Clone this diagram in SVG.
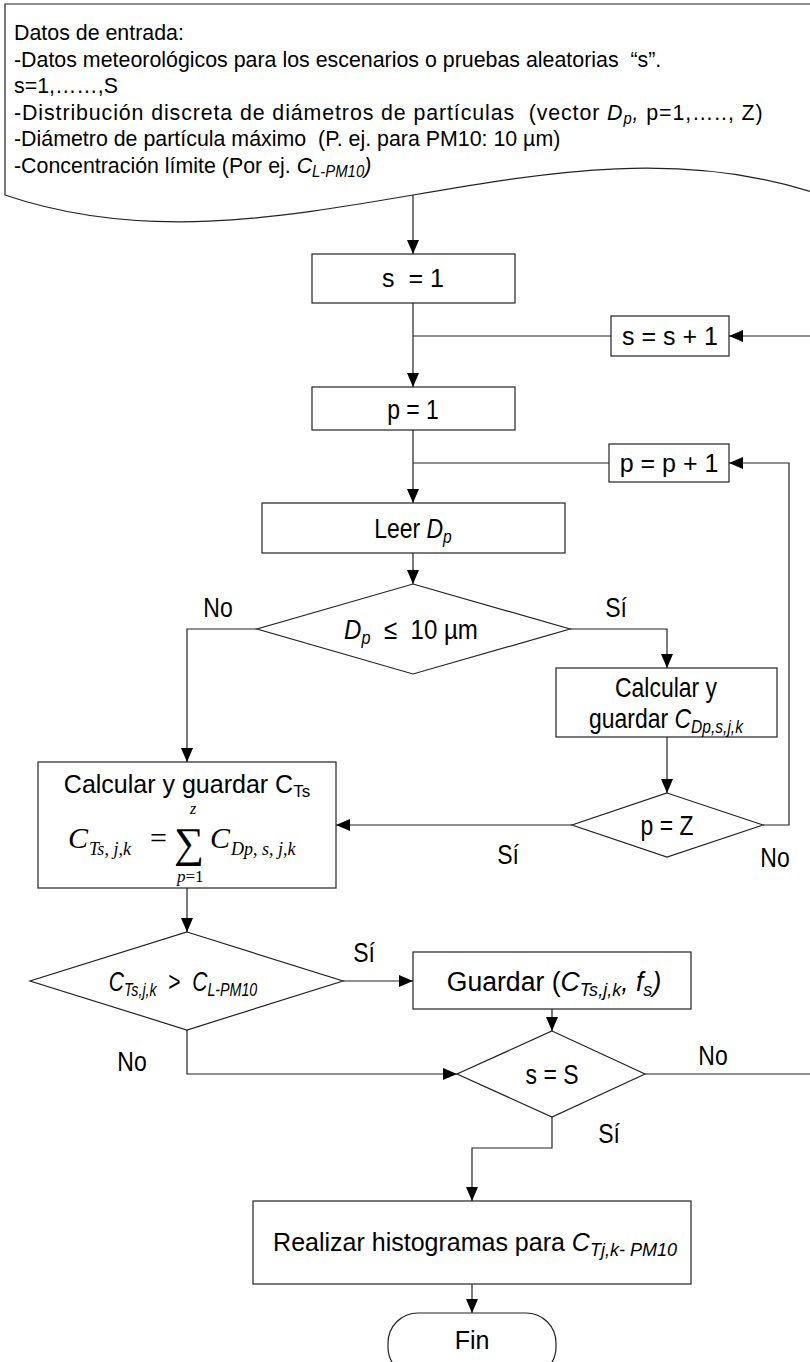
<svg xmlns="http://www.w3.org/2000/svg" width="810" height="1362" viewBox="0 0 810 1362">
  <style>
    .box { fill: #fff; stroke: #222; stroke-width: 1.2; }
    .wire { fill: none; stroke: #222; stroke-width: 1.2; }
    .n { font-family: "Liberation Sans", Arial, sans-serif; font-size: 28px; fill: #000; text-anchor: middle; }
    .t { font-family: "Liberation Sans", Arial, sans-serif; font-size: 23px; fill: #000; }
    .r { font-family: "Liberation Sans", Arial, sans-serif; font-size: 25px; fill: #000; }
    .m { font-family: "Liberation Serif", "Times New Roman", serif; fill: #000; }
    .c { text-anchor: middle; }
    .i { font-style: italic; }
  </style>
  <defs>
    <marker id="ah" markerWidth="14" markerHeight="12" refX="14" refY="6" orient="auto" markerUnits="userSpaceOnUse">
      <path d="M0,0 L14,6 L0,12 z" fill="#000"/>
    </marker>
  </defs>

  <!-- input data document -->
  <g id="input">
    <path class="box" d="M821,195 V4 H5 V195 C278,288 548,102 821,195 Z"/>
    <g transform="translate(14 0) scale(0.93 1)">
      <text class="t" x="0" y="40">Datos de entrada:</text>
      <text class="t" x="0" y="67" xml:space="preserve">-Datos meteorológicos para los escenarios o pruebas aleatorias  “s”.</text>
      <text class="t" x="0" y="93">s=1,……,S</text>
      <text class="t" x="0" y="120" xml:space="preserve" textLength="805" lengthAdjust="spacing">-Distribución discreta de diámetros de partículas  (vector <tspan class="i">D</tspan><tspan class="i" font-size="16" dy="4">p</tspan><tspan class="i" dy="-4">,</tspan> p=1,….., Z)</text>
      <text class="t" x="0" y="146" xml:space="preserve">-Diámetro de partícula máximo  (P. ej. para PM10: 10 µm)</text>
      <text class="t" x="0" y="173">-Concentración límite (Por ej. <tspan class="i">C</tspan><tspan class="i" font-size="16" dy="4">L-PM10</tspan><tspan class="i" dy="-4">)</tspan></text>
    </g>
  </g>

  <g id="s-init">
    <rect class="box" x="312" y="254" width="203" height="49"/>
    <text class="r c" x="413" y="287" xml:space="preserve">s  = 1</text>
  </g>

  <g id="s-next">
    <rect class="box" x="611" y="316" width="118" height="40"/>
    <text class="r c" x="670" y="345">s = s + 1</text>
  </g>

  <g id="p-init">
    <rect class="box" x="312" y="387" width="203" height="43"/>
    <text class="n" transform="translate(413 419) scale(0.82 1)">p = 1</text>
  </g>

  <g id="p-next">
    <rect class="box" x="609" y="444" width="120" height="38"/>
    <text class="r c" x="669" y="472">p = p + 1</text>
  </g>

  <g id="read-dp">
    <rect class="box" x="262" y="503" width="303" height="50"/>
    <text class="n" transform="translate(413 538) scale(0.82 1)">Leer <tspan class="i">D</tspan><tspan class="i" font-size="19" dy="5">p</tspan></text>
  </g>

  <g id="dp-check">
    <polygon class="box" points="413,584 570,629 413,674 257,629"/>
    <text class="n" transform="translate(411 639) scale(0.86 1)" xml:space="preserve"><tspan class="i">D</tspan><tspan class="i" font-size="19" dy="5">p</tspan><tspan dy="-5">  ≤  10 µm</tspan></text>
  </g>

  <g id="calc-cdp">
    <rect class="box" x="556" y="668" width="221" height="69"/>
    <text class="n" transform="translate(666 697) scale(0.82 1)">Calcular y</text>
    <text class="n" transform="translate(666 728) scale(0.82 1)">guardar <tspan class="i">C</tspan><tspan class="i" font-size="19" dy="5">Dp,s,j,k</tspan></text>
  </g>

  <g id="p-last">
    <polygon class="box" points="667,793 763,825 667,857 572,825"/>
    <text class="n" transform="translate(667 835) scale(0.82 1)">p = Z</text>
  </g>

  <g id="calc-cts">
    <rect class="box" x="38" y="762" width="298" height="126"/>
    <text class="r c" x="187" y="793">Calcular y guardar C<tspan font-size="17" dy="4">Ts</tspan></text>
    <text class="m i" x="68" y="848" font-size="30">C</text>
    <text class="m i" x="89" y="855" font-size="18">Ts<tspan font-style="normal">, </tspan>j<tspan font-style="normal">,</tspan>k</text>
    <text class="m" x="150" y="848" font-size="30">=</text>
    <text class="m" x="174" y="857" font-size="42">∑</text>
    <text class="m i" x="190" y="814" font-size="16">z</text>
    <text class="m" x="177" y="882" font-size="17"><tspan class="i">p</tspan>=1</text>
    <text class="m i" x="210" y="848" font-size="30">C</text>
    <text class="m i" x="231" y="855" font-size="18">Dp<tspan font-style="normal">, </tspan>s<tspan font-style="normal">, </tspan>j<tspan font-style="normal">,</tspan>k</text>
  </g>

  <g id="limit-check">
    <polygon class="box" points="187,932 343,981 187,1030 30,981"/>
    <text class="n i" transform="translate(183 991) scale(0.75 1)" xml:space="preserve">C<tspan font-size="19" dy="5">Ts,j,k</tspan><tspan dy="-5" font-style="normal">  &gt;  </tspan>C<tspan font-size="19" dy="5">L-PM10</tspan></text>
  </g>

  <g id="store">
    <rect class="box" x="413" y="952" width="278" height="57"/>
    <text class="n" transform="translate(554 991) scale(0.95 1)">Guardar (<tspan class="i">C</tspan><tspan class="i" font-size="19" dy="5">Ts,j,k</tspan><tspan class="i" dy="-5">, f</tspan><tspan class="i" font-size="19" dy="5">s</tspan><tspan class="i" dy="-5">)</tspan></text>
  </g>

  <g id="s-last">
    <polygon class="box" points="552,1031 645,1074 552,1117 457,1074"/>
    <text class="n" transform="translate(552 1084) scale(0.82 1)">s = S</text>
  </g>

  <g id="histograms">
    <rect class="box" x="253" y="1201" width="438" height="83"/>
    <text class="r c" x="475" y="1251" font-size="26">Realizar histogramas para <tspan class="i">C</tspan><tspan class="i" font-size="18" dy="5">Tj,k- PM10</tspan></text>
  </g>

  <g id="end">
    <rect class="box" x="388" y="1313" width="168" height="64" rx="30" ry="30"/>
    <text class="r c" x="472" y="1349">Fin</text>
  </g>

  <!-- flow lines -->
  <g id="connectors">
    <path class="wire" d="M413,195 V254" marker-end="url(#ah)"/>
    <path class="wire" d="M413,303 V387" marker-end="url(#ah)"/>
    <path class="wire" d="M611,336 H413"/>
    <path class="wire" d="M413,430 V503" marker-end="url(#ah)"/>
    <path class="wire" d="M609,463 H413"/>
    <path class="wire" d="M763,825 H789 V463 H729" marker-end="url(#ah)"/>
    <path class="wire" d="M413,553 V584" marker-end="url(#ah)"/>
    <path class="wire" d="M257,629 H187 V762" marker-end="url(#ah)"/>
    <path class="wire" d="M570,629 H667 V668" marker-end="url(#ah)"/>
    <path class="wire" d="M667,737 V793" marker-end="url(#ah)"/>
    <path class="wire" d="M572,825 H336" marker-end="url(#ah)"/>
    <path class="wire" d="M187,888 V932" marker-end="url(#ah)"/>
    <path class="wire" d="M343,981 H413" marker-end="url(#ah)"/>
    <path class="wire" d="M552,1009 V1031" marker-end="url(#ah)"/>
    <path class="wire" d="M187,1030 V1074 H457" marker-end="url(#ah)"/>
    <path class="wire" d="M645,1074 H812 V336 H729" marker-end="url(#ah)"/>
    <path class="wire" d="M552,1117 V1148 H472 V1201" marker-end="url(#ah)"/>
    <path class="wire" d="M472,1284 V1313" marker-end="url(#ah)"/>
  </g>

  <!-- branch labels -->
  <g id="labels">
    <text class="n" transform="translate(218 617) scale(0.82 1)">No</text>
    <text class="n" transform="translate(616 617) scale(0.82 1)">Sí</text>
    <text class="n" transform="translate(508 864) scale(0.82 1)">Sí</text>
    <text class="n" transform="translate(775 867) scale(0.82 1)">No</text>
    <text class="n" transform="translate(364 962) scale(0.82 1)">Sí</text>
    <text class="n" transform="translate(132 1071) scale(0.82 1)">No</text>
    <text class="n" transform="translate(713 1065) scale(0.82 1)">No</text>
    <text class="n" transform="translate(609 1143) scale(0.82 1)">Sí</text>
  </g>
</svg>
